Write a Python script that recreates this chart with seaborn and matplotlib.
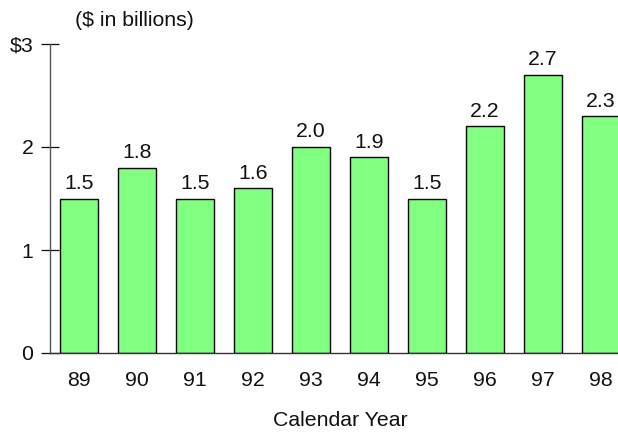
import matplotlib
matplotlib.use("Agg")
import matplotlib.pyplot as plt
import seaborn as sns
import pandas as pd

# Annual amounts, $ billions
years = ["89", "90", "91", "92", "93", "94", "95", "96", "97", "98"]
amounts = [1.5, 1.8, 1.5, 1.6, 2.0, 1.9, 1.5, 2.2, 2.7, 2.3]
y_ticks = [0, 1, 2, 3]
y_tick_labels = ["0", "1", "2", "$3"]

sns.set_style("ticks")
plt.rcParams["font.family"] = ["Liberation Sans", "DejaVu Sans"]

W, H = 618, 434
fig = plt.figure(figsize=(W / 100, H / 100), dpi=100)
ax = fig.add_axes([50 / W, (H - 353) / H, 1 - 50 / W, (353 - 44) / H])

df = pd.DataFrame({"year": years, "amount": amounts})
sns.barplot(data=df, x="year", y="amount", color="#80FF80", saturation=1,
            edgecolor="black", linewidth=1.0, width=0.655, ax=ax)

# value labels above each bar
for i, v in enumerate(amounts):
    ax.annotate(f"{v:.1f}", xy=(i, v), xytext=(0, 4), textcoords="offset points",
                ha="center", va="bottom", fontsize=15.3, color="#111111")

ax.set_xlim(-0.5, (618 - 79) / 58)
ax.set_ylim(0, 3)
ax.set_yticks(y_ticks)
ax.set_yticklabels(y_tick_labels)

for s in ["top", "right"]:
    ax.spines[s].set_visible(False)
ax.spines["left"].set_color("#555555")
ax.spines["bottom"].set_color("#333333")
ax.spines["left"].set_linewidth(1.0)
ax.spines["bottom"].set_linewidth(1.0)

ax.tick_params(axis="y", direction="inout", length=13, width=0.9, color="#111111",
               pad=5.5, labelsize=15.3, labelcolor="#111111")
ax.tick_params(axis="x", length=0, pad=13, labelsize=15.3, labelcolor="#111111")

ax.set_xlabel("Calendar Year", fontsize=15.3, color="#111111")
ax.xaxis.label.set_va("center")
ax.set_ylabel("")
ax.xaxis.set_label_coords((340 - 50) / (W - 50), -(421 - 353) / (353 - 44))

fig.text(75 / W, 1 - 20 / H, "($ in billions)", ha="left", va="center",
         fontsize=15.3, color="#111111")

fig.savefig("out.png", dpi=100)
